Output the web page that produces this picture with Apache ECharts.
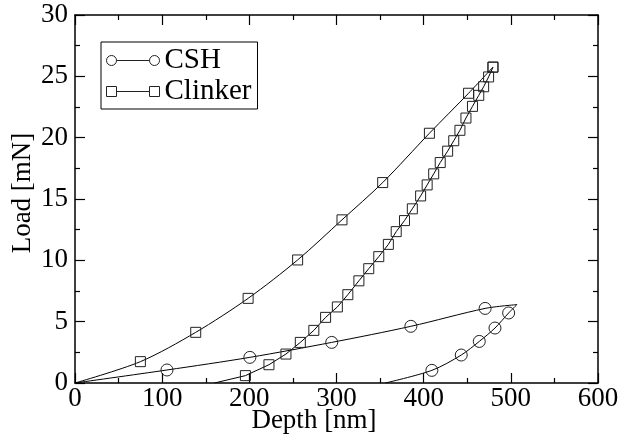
<!DOCTYPE html>
<html>
<head>
<meta charset="utf-8">
<script src="https://cdn.jsdelivr.net/npm/echarts@6/dist/echarts.min.js"></script>
<style>
  html, body { margin: 0; padding: 0; background: #fff; }
  #chart { width: 628px; height: 445px; }
</style>
</head>
<body>
<div id="chart"></div>
<script>
// indentation curves: [depth nm, load mN]
const cshLoading = [
    [0, 0], [105.5, 1.06], [200.6, 2.09], [294.5, 3.31], [385.3, 4.62], [470.5, 6.08], [507, 6.39],
];
const cshUnloading = [
    [507, 6.39], [497.5, 5.71], [481.8, 4.48], [463.8, 3.39], [443.1, 2.28], [409.4, 1.03], [356, 0],
];
const clinkerLoading = [
    [0, 0], [75, 1.74], [138.5, 4.13], [198.6, 6.9], [255.4, 10.03], [306.3, 13.3],
    [353, 16.34], [406.6, 20.36], [451.5, 23.62], [479.5, 25.75],
];
const clinkerUnloading = [
    [479.5, 25.75], [474.5, 24.95], [468.8, 24.15], [463.2, 23.45], [456, 22.55], [448.5, 21.6],
    [441.6, 20.6], [434.5, 19.75], [427.5, 18.9], [419, 17.97], [411.5, 17.05], [404, 16.15],
    [396.5, 15.25], [387, 14.2], [378, 13.24], [368.5, 12.34], [359.5, 11.3], [348.5, 10.3],
    [337, 9.32], [325.7, 8.33], [313, 7.2], [301, 6.2], [287.5, 5.35], [274, 4.29],
    [258.5, 3.31], [242, 2.36], [222.5, 1.49], [195.5, 0.6], [160, 0],
];
// CSH peak is drawn without a marker in the original
const cshPeak = [507, 6.39];

const xTicks = { min: 0, max: 600, interval: 100 };
const yTicks = { min: 0, max: 30, interval: 5 };

const FONT = 'Liberation Serif, Times New Roman, serif';

// curve ends on the x axis (and the CSH peak) have no marker
function withMarkers(points) {
    return points.map(p => {
        const bare = p[1] === 0 || (p[0] === cshPeak[0] && p[1] === cshPeak[1]);
        return bare ? { value: p, symbol: 'none' } : p;
    });
}

const ICON_CIRCLE = 'path://M0,5A5,5 0 1,1 10,5A5,5 0 1,1 0,5Z M10,5L43,5 M43,5A5,5 0 1,1 53,5A5,5 0 1,1 43,5Z';
const ICON_SQUARE = 'path://M0,0H10V10H0Z M10,5H43 M43,0H53V10H43Z';

function frameAxis(kind, ticks, position, showLabels) {
    return {
        type: 'value',
        position,
        min: ticks.min,
        max: ticks.max,
        interval: ticks.interval,
        axisLine: { show: true, onZero: false, lineStyle: { color: '#000', width: 1.5 } },
        axisTick: { show: true, inside: true, length: 10, lineStyle: { color: '#000', width: 1.2 } },
        minorTick: { show: true, splitNumber: 2, length: 5, lineStyle: { color: '#000', width: 1.2 } },
        splitLine: { show: false },
        minorSplitLine: { show: false },
        axisLabel: {
            show: showLabels,
            color: '#000',
            fontFamily: FONT,
            fontSize: 27,
            margin: kind === 'x' ? 2 : 7,
        },
    };
}

function curve(name, data, symbol, size, smooth) {
    return {
        name,
        type: 'line',
        data: withMarkers(data),
        symbol,
        symbolSize: size,
        smooth,
        showAllSymbol: true,
        animation: false,
        lineStyle: { color: '#000', width: 1 },
        itemStyle: { color: 'rgba(0,0,0,0)', borderColor: '#222', borderWidth: 1 },
        emphasis: { disabled: true },
    };
}

const chart = echarts.init(document.getElementById('chart'));
chart.setOption({
    backgroundColor: '#fff',
    animation: false,
    grid: { left: 75, top: 15, width: 523, height: 368 },
    xAxis: [frameAxis('x', xTicks, 'bottom', true), frameAxis('x', xTicks, 'top', false)],
    yAxis: [frameAxis('y', yTicks, 'left', true), frameAxis('y', yTicks, 'right', false)],
    legend: {
        orient: 'vertical',
        left: 101,
        top: 42,
        padding: [4, 6, 3, 5],
        itemGap: 2,
        itemWidth: 53,
        itemHeight: 10,
        borderColor: '#000',
        borderWidth: 1,
        itemStyle: { color: 'rgba(0,0,0,0)', borderColor: '#222', borderWidth: 1 },
        textStyle: { color: '#000', fontFamily: FONT, fontSize: 29, lineHeight: 24, padding: [0, 0, 0, 0] },
        data: [
            { name: 'CSH', icon: ICON_CIRCLE },
            { name: 'Clinker', icon: ICON_SQUARE },
        ],
    },
    graphic: [
        {
            type: 'text',
            x: 314, y: 421,
            style: { text: 'Depth [nm]', font: '27px ' + FONT, fill: '#000', align: 'center', verticalAlign: 'middle' },
        },
        {
            type: 'text',
            x: 23, y: 193,
            rotation: Math.PI / 2,
            style: { text: 'Load [mN]', font: '27px ' + FONT, fill: '#000', align: 'center', verticalAlign: 'middle' },
        },
    ],
    series: [
        curve('CSH', cshLoading, 'circle', 12, 0.3),
        curve('CSH', cshUnloading, 'circle', 12, 0.3),
        curve('Clinker', clinkerLoading, 'rect', 10, 0.3),
        curve('Clinker', clinkerUnloading, 'rect', 10, false),
    ],
});
</script>
</body>
</html>
